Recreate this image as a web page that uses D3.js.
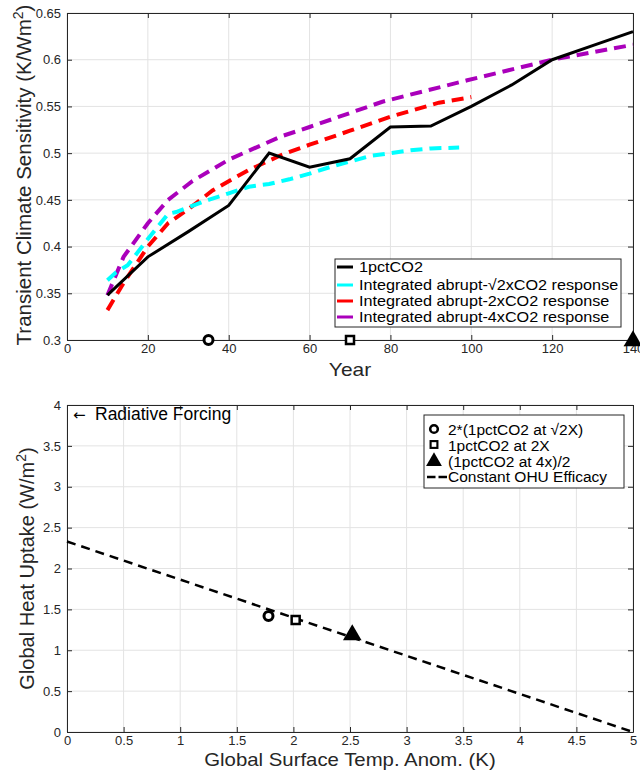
<!DOCTYPE html>
<html>
<head>
<meta charset="utf-8">
<script src="https://cdn.jsdelivr.net/npm/d3@7"></script>
<style>
body { margin: 0; background: #fff; }
svg text { font-family: "Liberation Sans", Arial, sans-serif; }
.tick text { fill: #262626; font-size: 13px; }
</style>
</head>
<body>
<div id="chart"></div>
<script>
// top panel: transient climate sensitivity vs year
var years1pct = [10, 20, 30, 40, 50, 60, 70, 80, 90, 100, 110, 120, 130, 140];
var tcs1pct = [0.348, 0.389, 0.416, 0.444, 0.5, 0.485, 0.494, 0.528, 0.529, 0.55, 0.573, 0.6, 0.615, 0.63];

var yearsSqrt2 = [10, 12, 15, 20, 25, 27, 30, 35, 40, 45, 50, 55, 60, 65, 70, 75, 80, 85, 90, 97];
var tcsSqrt2 = [0.364, 0.372, 0.38, 0.408, 0.435, 0.437, 0.442, 0.45, 0.457, 0.464, 0.467, 0.472, 0.478, 0.485, 0.491, 0.497, 0.5, 0.503, 0.505, 0.506];

var years2x = [10, 14, 20, 25, 30, 36, 40, 45, 53, 60, 70, 80, 92, 100];
var tcs2x = [0.332, 0.361, 0.4, 0.425, 0.44, 0.46, 0.47, 0.482, 0.498, 0.509, 0.524, 0.539, 0.554, 0.56];

var years4x = [10, 14, 20, 25, 31, 40, 53, 60, 78, 99, 120, 140];
var tcs4x = [0.348, 0.389, 0.425, 0.45, 0.47, 0.493, 0.518, 0.528, 0.555, 0.578, 0.6, 0.616];

var seriesNames = ["1pctCO2", "Integrated abrupt-\u221A2xCO2 response", "Integrated abrupt-2xCO2 response", "Integrated abrupt-4xCO2 response"];
var seriesColors = ["#000000", "#00ffff", "#ff0000", "#aa00bb"];

// crossing years marked on the x axis
var markYears = [35, 70, 140];
var markShapes = ["circle", "square", "triangle"];

// bottom panel: heat uptake vs temperature
var markTemp = [1.78, 2.02, 2.52];
var markUptake = [1.42, 1.37, 1.2];
var markNames = ["2*(1pctCO2 at \u221A2X)", "1pctCO2 at 2X", "(1pctCO2 at 4x)/2"];
var efficacyTemp = [0, 5];
var efficacyUptake = [2.33, 0];

var svg = d3.select("#chart").append("svg")
    .attr("width", 640)
    .attr("height", 771);

// widen a text a bit, the reference glyphs are drawn wider than tall
function widen(sel, f) {
    sel.each(function () {
        var L = this.getComputedTextLength();
        this.setAttribute("textLength", L * f);
        this.setAttribute("lengthAdjust", "spacingAndGlyphs");
    });
}

function drawMarker(g, shape, x, y, s) {
    s = s || 1;
    if (shape == "circle") {
        g.append("circle").attr("cx", x).attr("cy", y).attr("r", 4.5 * s)
            .attr("fill", "#fff").attr("stroke", "#000").attr("stroke-width", 3 * s);
    } else if (shape == "square") {
        g.append("rect").attr("x", x - 4 * s).attr("y", y - 4 * s).attr("width", 8 * s).attr("height", 8 * s)
            .attr("fill", "#fff").attr("stroke", "#000").attr("stroke-width", 2.5 * s);
    } else {
        g.append("path").attr("d", d3.symbol().type(d3.symbolTriangle).size(150 * s * s)())
            .attr("transform", `translate(${x},${y + 1})`)
            .attr("fill", "#000");
    }
}

function drawFrame(g, x, y, xTicks, yTicks, xFmt, yFmt) {
    var x0 = x.range()[0], x1 = x.range()[1];
    var y0 = y.range()[0], y1 = y.range()[1];

    // grid
    g.append("g").selectAll("line").data(xTicks).enter().append("line")
        .attr("x1", d => x(d)).attr("x2", d => x(d))
        .attr("y1", y0).attr("y2", y1)
        .attr("stroke", "#e3e3e3").attr("stroke-width", 1);
    g.append("g").selectAll("line").data(yTicks).enter().append("line")
        .attr("x1", x0).attr("x2", x1)
        .attr("y1", d => y(d)).attr("y2", d => y(d))
        .attr("stroke", "#e3e3e3").attr("stroke-width", 1);

    var bottom = g.append("g").attr("transform", `translate(0,${y0})`)
        .call(d3.axisBottom(x).tickValues(xTicks).tickFormat(xFmt).tickSizeInner(-5).tickSizeOuter(0).tickPadding(4));
    var left = g.append("g").attr("transform", `translate(${x0},0)`)
        .call(d3.axisLeft(y).tickValues(yTicks).tickFormat(yFmt).tickSizeInner(-5).tickSizeOuter(0).tickPadding(6));
    var top = g.append("g").attr("transform", `translate(0,${y1})`)
        .call(d3.axisTop(x).tickValues(xTicks).tickFormat("").tickSizeInner(-5).tickSizeOuter(0));
    var right = g.append("g").attr("transform", `translate(${x1},0)`)
        .call(d3.axisRight(y).tickValues(yTicks).tickFormat("").tickSizeInner(-5).tickSizeOuter(0));
    [bottom, left, top, right].forEach(function (a) {
        a.select(".domain").attr("stroke", "#262626");
        a.selectAll(".tick line").attr("stroke", "#262626");
    });
}

// ---------- top panel ----------
var xTop = d3.scaleLinear().domain([0, 140]).range([67, 633]);
var yTop = d3.scaleLinear().domain([0.3, 0.65]).range([340, 13]);
var gTop = svg.append("g");

drawFrame(gTop, xTop, yTop, d3.range(0, 141, 20), [0.3, 0.35, 0.4, 0.45, 0.5, 0.55, 0.6, 0.65],
    d3.format("d"), d => d3.format("")(+d.toFixed(2)));

var seriesX = [years1pct, yearsSqrt2, years2x, years4x];
var seriesY = [tcs1pct, tcsSqrt2, tcs2x, tcs4x];
var lineTop = d3.line().x(d => xTop(d[0])).y(d => yTop(d[1]));

// draw purple, red, cyan, then black on top
[3, 2, 1, 0].forEach(function (i) {
    var pts = d3.zip(seriesX[i], seriesY[i]);
    gTop.append("path")
        .datum(pts)
        .attr("d", lineTop)
        .attr("fill", "none")
        .attr("stroke", seriesColors[i])
        .attr("stroke-width", i == 0 ? 3 : 4)
        .attr("stroke-dasharray", i == 0 ? null : "12,7");
});

markYears.forEach(function (yr, i) {
    drawMarker(gTop, markShapes[i], xTop(yr), yTop(0.3));
});

// top legend
var legTop = gTop.append("g");
legTop.append("rect").attr("x", 335).attr("y", 259).attr("width", 286).attr("height", 68)
    .attr("fill", "#fff").attr("stroke", "#262626").attr("stroke-width", 1);
var legRowsTop = [272, 290, 306, 322];
seriesNames.forEach(function (name, i) {
    var yy = legRowsTop[i];
    legTop.append("line").attr("x1", 337).attr("x2", 353).attr("y1", yy - 5).attr("y2", yy - 5)
        .attr("stroke", seriesColors[i]).attr("stroke-width", 3);
    legTop.append("text").attr("x", 359).attr("y", yy)
        .attr("font-size", 15).attr("fill", "#000").text(name)
        .call(widen, 1.08);
});

gTop.append("text")
    .attr("x", 350).attr("y", 376)
    .attr("text-anchor", "middle")
    .attr("font-size", 19).attr("fill", "#262626")
    .text("Year")
    .call(widen, 1.1);

var yl1 = gTop.append("text")
    .attr("transform", `translate(31,${(5 + 345) / 2}) rotate(-90)`)
    .attr("text-anchor", "middle")
    .attr("font-size", 20.5).attr("fill", "#262626");
yl1.append("tspan").text("Transient Climate Sensitivity (K/Wm");
yl1.append("tspan").attr("dy", -8).attr("font-size", 14).text("2");
yl1.append("tspan").attr("dy", 8).text(")");

// ---------- bottom panel ----------
var xBot = d3.scaleLinear().domain([0, 5]).range([67, 633]);
var yBot = d3.scaleLinear().domain([0, 4]).range([732, 405]);
var gBot = svg.append("g");

drawFrame(gBot, xBot, yBot, d3.range(0, 5.01, 0.5), d3.range(0, 4.01, 0.5),
    d => d3.format("")(+d.toFixed(1)), d => d3.format("")(+d.toFixed(1)));

gBot.append("path")
    .datum(d3.zip(efficacyTemp, efficacyUptake))
    .attr("d", d3.line().x(d => xBot(d[0])).y(d => yBot(d[1])))
    .attr("fill", "none")
    .attr("stroke", "#000")
    .attr("stroke-width", 2.5)
    .attr("stroke-dasharray", "9,6");

markTemp.forEach(function (t, i) {
    drawMarker(gBot, markShapes[i], xBot(t), yBot(markUptake[i]));
});

var rf = gBot.append("text")
    .attr("x", 73).attr("y", 420)
    .attr("font-size", 17.5).attr("fill", "#000");
rf.append("tspan").attr("font-family", "DejaVu Sans").attr("font-size", 15).text("\u2190");
rf.append("tspan").attr("x", 95).text("Radiative Forcing");

// bottom legend
var legBot = gBot.append("g");
legBot.append("rect").attr("x", 424).attr("y", 415).attr("width", 200).attr("height", 73)
    .attr("fill", "#fff").attr("stroke", "#262626").attr("stroke-width", 1);
var legRowsBot = [435, 450.5, 466.5, 482];
markNames.forEach(function (name, i) {
    var yy = legRowsBot[i];
    drawMarker(legBot, markShapes[i], 434, yy - 6, 0.85);
    legBot.append("text").attr("x", 448).attr("y", yy)
        .attr("font-size", 15.5).attr("fill", "#000").text(name);
});
legBot.append("line").attr("x1", 427).attr("x2", 447).attr("y1", 477).attr("y2", 477)
    .attr("stroke", "#000").attr("stroke-width", 2.5).attr("stroke-dasharray", "8.5,3");
legBot.append("text").attr("x", 448).attr("y", 482)
    .attr("font-size", 15.5).attr("fill", "#000").text("Constant OHU Efficacy");

gBot.append("text")
    .attr("x", 350).attr("y", 766)
    .attr("text-anchor", "middle")
    .attr("font-size", 18.5).attr("fill", "#262626")
    .text("Global Surface Temp. Anom. (K)")
    .call(widen, 1.1);

var yl2 = gBot.append("text")
    .attr("transform", `translate(34,${(405 + 732) / 2}) rotate(-90)`)
    .attr("text-anchor", "middle")
    .attr("font-size", 20).attr("fill", "#262626");
yl2.append("tspan").text("Global Heat Uptake (W/m");
yl2.append("tspan").attr("dy", -8).attr("font-size", 14).text("2");
yl2.append("tspan").attr("dy", 8).text(")");
</script>
</body>
</html>
